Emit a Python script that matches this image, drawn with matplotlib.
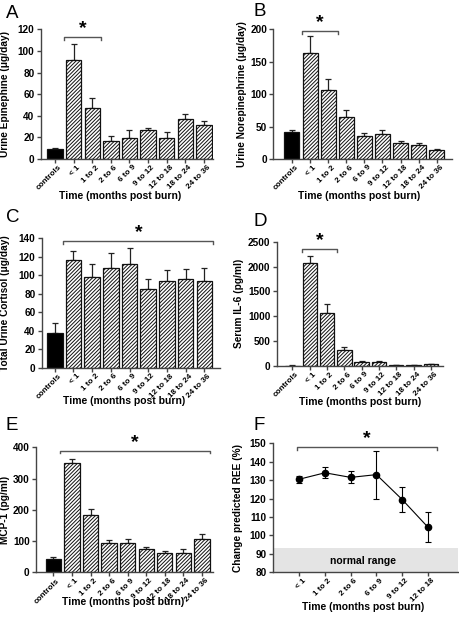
import numpy as np
import matplotlib.pyplot as plt
import matplotlib.transforms as mtransforms

plt.rcParams['font.family'] = ['Liberation Sans', 'DejaVu Sans']
plt.rcParams['font.weight'] = 'bold'
plt.rcParams['hatch.linewidth'] = 0.7
plt.rcParams['hatch.color'] = '#222222'

groups = ['controls', '< 1', '1 to 2', '2 to 6', '6 to 9', '9 to 12', '12 to 18', '18 to 24', '24 to 36']

# A: urine epinephine
epi_mean = [9, 92, 47, 17, 19, 26.5, 19, 37, 31]
epi_top = [10, 106, 56, 21, 27, 29, 25, 42, 35]
# B: urine norepinephrine
nor_mean = [41, 164, 106, 65, 35, 39, 24, 21, 14]
nor_top = [44, 189, 123, 76, 40, 45, 28, 25, 15]
# C: cortisol
cort_mean = [38, 117, 98, 108, 112, 85, 93.5, 96, 94]
cort_top = [48, 126, 112, 124, 130, 96, 106, 107, 108]
# D: IL-6
il6_mean = [10, 2070, 1060, 330, 75, 75, 25, 15, 35]
il6_top = [12, 2220, 1250, 380, 110, 100, 30, 20, 45]
# E: MCP-1
mcp_mean = [44, 350, 182, 95, 94, 76, 61, 63, 106]
mcp_top = [48, 364, 202, 104, 108, 82, 69, 73, 124]
# F: REE
ree_groups = ['< 1', '1 to 2', '2 to 6', '6 to 9', '9 to 12', '12 to 18']
ree_mean = [130.5, 134, 131.5, 133, 119.5, 104.5]
ree_err = [2, 3, 3.3, 13, 6.7, 8]

W, H = 460, 618
fig = plt.figure(figsize=(W / 100, H / 100), dpi=100)
shift = mtransforms.ScaledTranslation(3 / 100, 0, fig.dpi_scale_trans)


def ax_at(l, t, r, b):
    ax = fig.add_axes([l / W, 1 - b / H, (r - l) / W, (b - t) / H])
    ax.box_px = (l, t, r, b)
    return ax


def style(ax, ylab_x, xlab_cx, xlab_top):
    l, t, r, b = ax.box_px
    for s in ['top', 'right']:
        ax.spines[s].set_visible(False)
    for s in ['left', 'bottom']:
        ax.spines[s].set_color('#444444')
        ax.spines[s].set_linewidth(1.0)
    ax.tick_params(width=1.0, length=3, color='#444444')
    ax.tick_params(axis='y', labelsize=7.2, pad=1.5)
    ax.tick_params(axis='x', labelsize=5.9, pad=0.5)
    for lab in ax.get_xticklabels():
        lab.set_transform(lab.get_transform() + shift)
    ax.set_xlabel('Time (months post burn)', fontsize=7.5, fontweight='bold')
    ax.xaxis.set_label_coords((xlab_cx - l) / (r - l), (b - xlab_top) / (b - t))
    ax.yaxis.set_label_coords((ylab_x - l) / (r - l), 0.5)


def bracket(ax, x0, x1, y, h):
    ax.plot([x0, x0, x1, x1], [y - h, y, y, y - h], color='#555555', lw=1, clip_on=False)
    ax.text((x0 + x1) / 2, y, '*', ha='center', va='bottom', fontsize=14, fontweight='bold')


def bars(ax, mean, top, ymax, ylabel, xlim):
    x = np.arange(len(groups))
    colors = ['black'] + ['white'] * (len(groups) - 1)
    b = ax.bar(x, mean, width=0.83, color=colors, edgecolor='#111111', linewidth=0.9, zorder=2)
    for rect in b[1:]:
        rect.set_hatch('/' * 9)
    err = np.array(top) - np.array(mean)
    ax.errorbar(x, mean, yerr=[np.zeros(len(x)), err], fmt='none', ecolor='#222222',
                elinewidth=0.9, capsize=2.5, capthick=0.9, zorder=1)
    ax.set_xlim(*xlim)
    ax.set_ylim(0, ymax)
    ax.set_xticks(x)
    ax.set_xticklabels(groups, rotation=45, ha='right', rotation_mode='anchor')
    ax.set_ylabel(ylabel, fontsize=7.3, fontweight='bold')


def panel_letter(x, y, s):
    fig.text(x / W, 1 - y / H, s, fontsize=13.5, fontweight='normal', va='center', ha='left')


axA = ax_at(40.7, 29.3, 213, 159)
bars(axA, epi_mean, epi_top, 120, 'Urine Epinephine (\u03bcg/day)', (-0.77, 8.49))
axA.set_yticks(range(0, 121, 20))
style(axA, 10, 120, 191)
bracket(axA, 0.5, 2.45, 113, 3)
panel_letter(6, 13, 'A')

axB = ax_at(273.3, 29.3, 452, 159)
bars(axB, nor_mean, nor_top, 200, 'Urine Norepinephrine (\u03bcg/day)', (-1.03, 8.84))
axB.set_yticks(range(0, 201, 50))
style(axB, 247, 359, 191)
bracket(axB, 0.54, 2.52, 198, 5)
panel_letter(254, 12, 'B')

axC = ax_at(41.7, 238.3, 220, 367.7)
bars(axC, cort_mean, cort_top, 140, 'Total Urine Cortisol (\u03bcg/day)', (-0.7, 8.84))
axC.set_yticks(range(0, 141, 20))
style(axC, 9.5, 124, 396)
bracket(axC, 0.46, 8.48, 137, 3)
panel_letter(6, 218, 'C')

axD = ax_at(276.7, 241.7, 443, 366)
bars(axD, il6_mean, il6_top, 2500, 'Serum IL-6 (pg/ml)', (-0.91, 8.7))
axD.set_yticks(range(0, 2501, 500))
style(axD, 244, 360, 397)
bracket(axD, 0.53, 2.6, 2347, 60)
panel_letter(254, 221, 'D')

axE = ax_at(36, 447.3, 213, 572.3)
bars(axE, mcp_mean, mcp_top, 400, 'MCP-1 (pg/ml)', (-0.94, 8.6))
axE.set_yticks(range(0, 401, 100))
style(axE, 9.5, 123, 597)
bracket(axE, 0.36, 8.46, 389, 8)
panel_letter(6, 426, 'E')

axF = ax_at(272.7, 443.3, 458, 572.3)
xf = np.arange(len(ree_groups))
axF.axhspan(80, 93.3, color='#e4e4e4', zorder=0, lw=0)
axF.text(2.48, 86.3, 'normal range', ha='center', va='center', fontsize=7.5, fontweight='bold')
axF.errorbar(xf, ree_mean, yerr=ree_err, fmt='-o', color='black', ms=4.5, lw=0.8,
             elinewidth=0.8, capsize=2.5, capthick=0.8, zorder=3)
axF.set_xlim(-1.03, 6.17)
axF.set_ylim(80, 150)
axF.set_yticks(range(80, 151, 10))
axF.set_xticks(xf)
axF.set_xticklabels(ree_groups, rotation=45, ha='right', rotation_mode='anchor')
axF.set_ylabel('Change predicted REE (%)', fontsize=7.3, fontweight='bold')
style(axF, 243, 363.5, 602)
bracket(axF, -0.1, 5.36, 148, 1.5)
panel_letter(254, 425, 'F')

fig.savefig('out.png', dpi=100)
